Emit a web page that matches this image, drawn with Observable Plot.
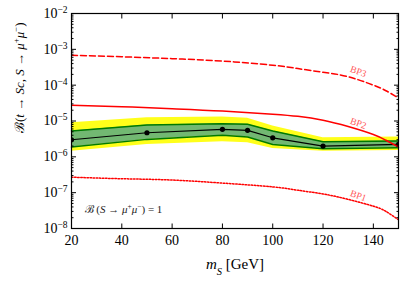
<!DOCTYPE html>
<html><head><meta charset="utf-8">
<script src="https://cdn.jsdelivr.net/npm/d3@7"></script>
<script src="https://cdn.jsdelivr.net/npm/@observablehq/plot@0.6"></script>
<style>body{margin:0;background:#fff}</style>
</head><body><div id="chart"></div>
<script>
// Expected limit band (mass points)
const mS = [20, 50, 80, 90, 100, 120, 150];
const median = [3.0e-6, 4.7e-6, 5.85e-6, 5.5e-6, 3.4e-6, 1.99e-6, 2.22e-6];
const greenLow = [1.87e-6, 3.07e-6, 3.98e-6, 3.56e-6, 2.22e-6, 1.68e-6, 1.79e-6];
const greenHigh = [5.25e-6, 7.7e-6, 8.4e-6, 8.1e-6, 5.25e-6, 2.63e-6, 2.75e-6];
const yellowLow = [1.44e-6, 2.22e-6, 2.63e-6, 2.47e-6, 1.72e-6, 1.44e-6, 1.51e-6];
const yellowHigh = [9.0e-6, 1.24e-5, 1.30e-5, 1.19e-5, 7.2e-6, 3.4e-6, 3.56e-6];

// Benchmark point predictions
const bpMass = [20, 40, 60, 80, 100, 110, 120, 130, 140, 145, 150];
const bp1 = [2.7e-7, 2.45e-7, 2.25e-7, 1.85e-7, 1.45e-7, 1.17e-7, 9.2e-8, 6.5e-8, 4.2e-8, 3.0e-8, 1.75e-8];
const bp2 = [2.75e-5, 2.5e-5, 2.2e-5, 1.9e-5, 1.55e-5, 1.35e-5, 1.05e-5, 7.0e-6, 4.2e-6, 2.9e-6, 1.9e-6];
const bp3 = [6.8e-4, 6.2e-4, 5.5e-4, 4.7e-4, 3.6e-4, 2.9e-4, 2.3e-4, 1.72e-4, 1.0e-4, 7.0e-5, 4.4e-5];

const bpNames = ["BP1", "BP2", "BP3"];
const bpLabelM = [134, 134, 134];
const bpLabelV = [8.2e-8, 8.6e-6, 2.4e-4];

const xTicks = [20, 40, 60, 80, 100, 120, 140];
const yTicks = [1e-8, 1e-7, 1e-6, 1e-5, 1e-4, 1e-3, 1e-2];
const yTickExp = ["−8", "−7", "−6", "−5", "−4", "−3", "−2"];
const yMinor = [];
for (let e = -8; e < -2; e++) for (let k = 2; k <= 9; k++) yMinor.push(k * Math.pow(10, e));

const note = {m: 25.2, v: 3.4e-8, text: "ℬ(S → μ⁺μ⁻) = 1"};

const band = mS.map((m, i) => ({m, c: median[i], g1: greenLow[i], g2: greenHigh[i], y1: yellowLow[i], y2: yellowHigh[i]}));
const mk = arr => bpMass.map((m, i) => ({m, v: arr[i]}));
const bpLabels = bpNames.map((n, i) => ({n, m: bpLabelM[i], v: bpLabelV[i]}));

const serif = "'Liberation Serif', 'DejaVu Serif', serif";
const chart = Plot.plot({
  width: 407, height: 284,
  marginLeft: 71, marginRight: 9, marginTop: 13, marginBottom: 56,
  style: {fontSize: "14px", background: "white", color: "black"},
  x: {domain: [20, 150]},
  y: {type: "log", domain: [1e-8, 1e-2]},
  marks: [
    Plot.areaY(band, {x: "m", y1: "y1", y2: "y2", fill: "#ffff1a"}),
    Plot.areaY(band, {x: "m", y1: "g1", y2: "g2", fill: "#72b872"}),
    Plot.lineY(band, {x: "m", y: "g1", stroke: "#007a00", strokeWidth: 1.5}),
    Plot.lineY(band, {x: "m", y: "g2", stroke: "#007a00", strokeWidth: 1.5}),
    Plot.lineY(band, {x: "m", y: "c", stroke: "black", strokeWidth: 1.2}),
    Plot.dot(band, {x: "m", y: "c", r: 2.6, fill: "black", clip: true}),
    Plot.line(mk(bp3), {x: "m", y: "v", stroke: "#ff0000", strokeWidth: 1.5, strokeDasharray: "6,3", curve: "natural", clip: true}),
    Plot.line(mk(bp2), {x: "m", y: "v", stroke: "#ff0000", strokeWidth: 1.5, curve: "natural", clip: true}),
    Plot.line(mk(bp1), {x: "m", y: "v", stroke: "#ff0000", strokeWidth: 1.5, strokeDasharray: "1.5,1.6", curve: "natural", clip: true}),
    Plot.text(bpLabels, {x: "m", y: "v", text: "n", fill: "#ff5a5a", fontSize: 9.5, rotate: 20}),
    Plot.text([note], {x: "m", y: "v", text: "text", textAnchor: "start", fontSize: 11, fill: "#222"}),
    Plot.frame({stroke: "black", strokeWidth: 1.2}),
    Plot.axisX({ticks: xTicks, anchor: "bottom", tickSize: -4.5, tickPadding: 11, label: null}),
    Plot.axisX({ticks: xTicks, anchor: "top", tickSize: -4.5, tickFormat: () => "", label: null}),
    Plot.axisY({ticks: yTicks, anchor: "left", tickSize: -5, tickPadding: 9, label: null,
      tickFormat: d => "10^" + yTickExp[yTicks.indexOf(d)]}),
    Plot.axisY({ticks: yTicks, anchor: "right", tickSize: -5, tickFormat: () => "", label: null}),
    Plot.axisY({ticks: yMinor, anchor: "left", tickSize: -2.5, tickFormat: () => "", label: null}),
    Plot.axisY({ticks: yMinor, anchor: "right", tickSize: -2.5, tickFormat: () => "", label: null}),
    Plot.text([0], {frameAnchor: "left", text: () => "ℬ(t → Sc, S → μ⁺μ⁻)", rotate: -90, dx: -52, dy: 12, fontSize: 13}),
    Plot.text([0], {frameAnchor: "bottom", text: () => "mS [GeV]", dy: 40, fontSize: 15})
  ]
});
chart.setAttribute("font-family", serif);
document.getElementById("chart").appendChild(chart);

const NS = "http://www.w3.org/2000/svg";
function rich(el, parts) {
  el.textContent = "";
  for (const [t, o] of parts) {
    const ts = document.createElementNS(NS, "tspan");
    ts.textContent = t;
    if (o && o.i) ts.setAttribute("font-style", "italic");
    if (o && o.sup) { ts.setAttribute("font-size", "0.68em"); ts.setAttribute("baseline-shift", "super"); }
    if (o && o.sub) { ts.setAttribute("font-size", "0.7em"); ts.setAttribute("baseline-shift", "sub"); }
    el.appendChild(ts);
  }
}
chart.querySelectorAll("text").forEach(el => {
  el.setAttribute("font-family", serif);
  const s = el.textContent;
  let m;
  if ((m = s.match(/^10\^(.+)$/))) rich(el, [["10"], [m[1], {sup: 1}]]);
  else if (s === "ℬ(t → Sc, S → μ⁺μ⁻)") rich(el, [["ℬ("], ["t", {i: 1}], [" → "], ["Sc", {i: 1}], [", "], ["S", {i: 1}], [" → "], ["μ", {i: 1}], ["+", {sup: 1}], ["μ", {i: 1}], ["−", {sup: 1}], [")"]]);
  else if (s === "ℬ(S → μ⁺μ⁻) = 1") rich(el, [["ℬ ("], ["S", {i: 1}], [" → "], ["μ", {i: 1}], ["+", {sup: 1}], ["μ", {i: 1}], ["−", {sup: 1}], [") = 1"]]);
  else if (s === "mS [GeV]") rich(el, [["m", {i: 1}], ["S", {i: 1, sub: 1}], [" [GeV]"]]);
});
</script>
</body></html>
